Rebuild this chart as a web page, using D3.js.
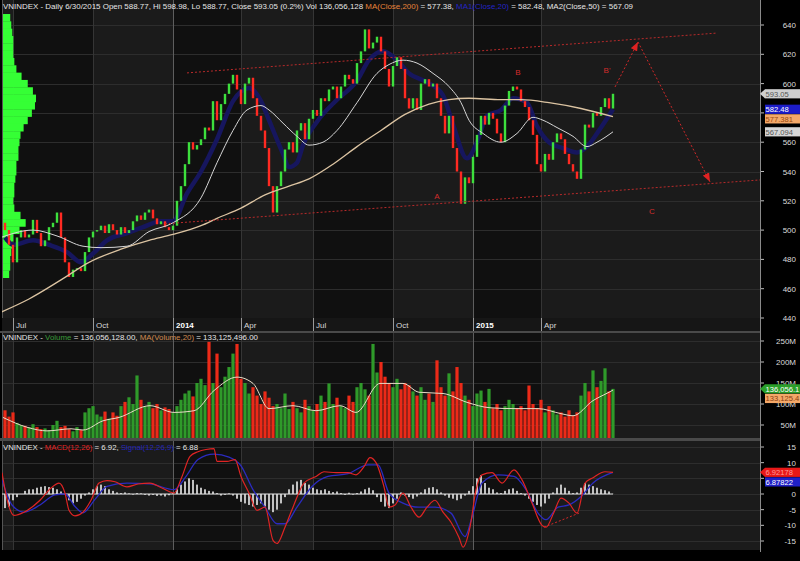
<!DOCTYPE html>
<html>
<head>
<meta charset="utf-8">
<script src="https://cdn.jsdelivr.net/npm/d3@7"></script>
<style>
body { margin: 0; background: #000; }
svg { display: block; font-family: "Liberation Sans", Arial, sans-serif; }
</style>
</head>
<body>
<svg id="chart" width="800" height="561"></svg>
<script>
// ---- data (one sample ~ every 3 trading days) ----
var closes = [500,490,478,495,500,495,497,507,498,489,
  493,502,505,512,495,478,468,473,474,472,
  485,495,499,500,503,498,504,500,497,502,
  498,500,506,510,507,512,514,508,504,506,
  502,500,503,520,530,545,560,555,558,562,
  570,568,588,575,586,593,600,606,596,586,
  600,604,590,578,568,556,530,512,530,540,
  555,560,553,568,573,562,576,582,578,590,
  588,596,598,590,598,606,603,600,614,622,
  637,624,628,632,622,610,598,612,618,610,
  590,583,590,582,600,603,598,600,590,578,
  566,578,556,540,518,536,532,550,565,578,
  572,580,576,566,560,585,595,598,596,588,
  584,575,565,545,540,552,548,560,566,562,
  552,545,540,535,555,572,570,580,578,584,
  590,583,593.05];
var firstOpen = 505;

// volume in millions
var volumes = [85,70,80,55,50,48,45,52,45,40,
  42,38,50,60,45,48,40,35,45,38,
  80,90,95,75,70,82,65,80,72,95,
  105,116,100,168,110,95,105,90,100,85,
  92,88,80,95,110,125,132,118,150,160,
  145,248,150,220,140,165,188,220,243,160,
  150,125,140,120,100,130,115,95,100,90,
  125,88,105,90,80,110,95,85,100,120,
  105,149,100,115,95,90,120,105,140,150,
  135,120,243,175,200,165,150,140,160,135,
  150,145,130,120,140,110,125,105,204,140,
  120,173,130,188,150,120,110,95,125,132,
  105,136,90,100,85,95,110,100,90,95,
  85,144,100,90,110,80,95,85,75,80,
  70,85,72,80,120,150,130,180,140,155,
  185,130,136.056];

var macdHist = [-4.5,-4,-2,-1,0,1,1.5,1.5,2,2.3,
  2.5,2.2,2,1.5,0.8,0,-2,-3,-2.5,-1.5,
  -0.5,0.5,1.5,2.5,3,2.5,1.5,1,0.5,0.3,
  0.5,0.2,-0.2,0.3,0.2,-0.3,-0.5,-0.3,-0.6,-0.5,
  -0.8,-0.4,0.3,1.5,3,4,5,4.5,3,2,
  1.5,1,0.8,0.3,-0.5,-0.3,0.2,-0.5,-1.5,-2.5,
  -3,-3.5,-4,-3.5,-3,-4,-5,-5.8,-5,-3,
  -1,1.5,3,4,4.5,3.5,3,2,1.5,1.2,
  1.5,1,0.6,0.8,0.3,-0.3,0.4,-0.2,0.3,0.8,
  1.5,2,1.2,-1,-2.5,-4,-4.5,-3,-1.5,0.5,
  -0.5,-1,-1.5,-0.8,0.5,1.5,2,2.2,1.5,0.5,
  -0.5,-1.2,-1.5,-2,-1.5,-0.5,1,2.5,5,6,
  3.5,2,1.5,0.5,0.3,1,1.5,1.8,1,0.3,
  -0.5,-1.5,-2.5,-3.5,-4,-3,-1.5,0.5,2,3,
  2,1,0.3,0.5,2,3.5,3,2.5,2,1.5,
  1.2,0.8,0.04];

// moving averages: [sample index, value]
var ma200 = [[-1,444],[6,453],[14,466],[21,478],[29,487],[36,493],[42,497],[49,503],[53,508],
  [59,515],[65,524],[71,530],[76,535],[82,545],[88,557],[94,568],[100,579],[106,586],
  [111,589],[116,590],[124,589],[129,589],[136,587],[144,583],[152,577.38]];
var ma50 = [[-1,495],[7,500],[13,496],[19.5,489],[24,488],[30.5,489],[36,499],[42,505],
  [49,522],[53,546],[57,568],[60.5,582],[64,585],[66,582],[69.5,573],[73,564],[76,558],
  [79.5,560],[83,568],[88,587],[93,607],[96,613],[99.5,616],[103,614],[107,607],[111,598],
  [114,587],[116,575],[119.5,566],[124,560],[128,566],[132,577],[134.5,575],[138,570],
  [142,564],[145.5,557],[148,560],[152,567.09]];
var ma20 = [[0,495],[2,490],[7,493],[11,490],[15.5,485],[19,478],[22,484],[25.5,493],
  [30.5,498],[34.5,502],[39,506],[42,506],[45.5,525],[49,540],[53,562],[57,588],[61,597],
  [64,588],[66,575],[69.5,552],[71,543],[73,546],[74.5,558],[78,574],[83,589],[88,602],
  [91,616],[94.5,622],[98,616],[101,607],[105.5,601],[109.5,592],[112,572],[115.5,549],
  [118,560],[120.5,578],[124,582],[127,590],[130.5,587],[133,571],[136,560],[139.5,556],
  [143,553],[145.5,557],[149,570],[152,582.48]];
var volMa = [[-0.5,68],[5.75,44],[10.5,36],[16.5,41],[19.5,38],[24.5,60],[28.5,68],[36.25,96],
  [42.25,80],[47.25,84],[52.25,132],[58,164],[62,149],[66,89],[72,96],[77.75,84],[83.75,96],
  [87.75,80],[93.75,149],[99.5,149],[103.5,128],[109.5,125],[115.5,104],[121.25,91],
  [127.25,89],[133.25,89],[139,77],[142,72],[147,108],[151,128],[152,133.125]];
var macdLine = [[-0.75,6.8],[0.75,-3],[2.25,-6.8],[4.75,-5.8],[8.75,-2],[11.5,1.9],[13.5,3.5],
  [15,0.3],[16,-5.2],[17.5,-7],[19.5,-5.8],[21.5,-2],[23.5,3.5],[25.5,4.3],[27.5,3.9],
  [30.5,2.3],[33.25,3.2],[36.25,3.5],[39.25,1.9],[42.25,0.3],[44.25,5.6],[46.25,12],
  [48.25,13.5],[50.25,14.2],[52.25,14.5],[53,10.4],[55.5,10.4],[57.5,11],[59,5.6],[61,0.3],
  [63,-5.2],[65,-4.2],[67,-14.8],[68,-15.8],[70,-10.6],[72,-4.2],[74.75,3.5],[77.75,5.6],
  [79.75,7.1],[82.75,6.8],[85.75,6.8],[87.75,6.1],[89.75,8.7],[91.25,11.6],[92.75,10],
  [94.75,2.3],[96,-4.2],[97.5,-3.5],[99.5,0.3],[101.5,-4.2],[103.5,-7.4],[105.5,-4.2],
  [107.5,-2],[109.5,-5.8],[111.5,-9],[113.5,-13.9],[114.5,-17],[116.25,-10.6],[117.75,1.3],
  [119.25,6.1],[121.75,6.8],[124.25,3.5],[127.25,7.7],[129.25,4.5],[131.75,-2.9],
  [134.25,-10],[135.25,-10.6],[137.25,-5.8],[139,-1.3],[141,-2.9],[143,-6.1],[145,3.5],
  [147,5.2],[150,7.1],[152,6.92]];
var signalLine = [[-0.75,4.5],[1.75,-3.5],[4.75,-5.8],[8.75,-3.5],[12.5,-0.3],[15,0],
  [17.5,-4],[19.5,-6],[22.5,-1.7],[25.5,2.4],[30.5,3.5],[36.25,3.2],[42.25,1.4],[45.25,5.6],
  [48.25,11],[52.25,12.7],[56,11.8],[59,9],[62,1.4],[65,-4.2],[68,-9.5],[70,-9.5],[73,-4.2],
  [76.75,2.4],[80.75,5.6],[85.75,6.5],[90.75,9.3],[93.25,9.3],[96,0.3],[99.5,-2.9],
  [103.5,-4.2],[107.5,-4.2],[111.5,-6.1],[115,-13.6],[116.75,-7.4],[119.25,3.5],[123.25,6.1],
  [127.25,5.6],[130.25,1.4],[133.25,-6.1],[135.25,-8.2],[138.25,-4.2],[141,-3.5],[144,-0.8],
  [147,3.5],[152,6.88]];

// volume-at-price profile on the left
var profileLevels = [645,640,635,630,625,620,615,610,605,600,595,590,585,580,575,570,565,560,
  555,550,545,540,535,530,525,520,515,510,505,500,495,490,485,480,475,470];
var profileVol = [7,8,9,10,10,10,11,13,18,24,29,32,31,28,24,20,17,16,
  15,15,13,13,12,11,11,10,11,17,22,16,10,9,8,7,7,6];

// axis ticks
var quarterIdx = [2,22,42,59,77,97,117,134];
var quarterLabels = ["Jul","Oct","2014","Apr","Jul","Oct","2015","Apr"];
var darkBands = [[2,22],[42,59],[77,97],[117,134]];
var priceTicks = [440,460,480,500,520,540,560,580,600,620,640];
var volTicks = [50,100,150,200,250];
var macdTicks = [-15,-10,-5,0,5,10,15];
// tick labels hidden behind the value tags
var hiddenLabels = { main: [580], vol: [], macd: [5] };

// ---- drawing ----
var svg = d3.select("#chart");
var L = 2, R = 760;
var main = { top: 0, bottom: 318 };
var vol = { top: 333, bottom: 438 };
var mac = { top: 441, bottom: 550 };

var x = d3.scaleLinear().domain([0, closes.length - 1]).range([5, 613]);
var yP = d3.scaleLinear().domain([440, 640]).range([318, 25]);
var yV = d3.scaleLinear().domain([0, 250]).range([446, 341]);
var yM = d3.scaleLinear().domain([-15, 15]).range([541, 447]);

var GREEN = "#3ddf3d", RED = "#ff2a22";

var defs = svg.append("defs");
[["clipMain", main], ["clipVol", vol], ["clipMacd", mac]].forEach(function (c) {
    defs.append("clipPath").attr("id", c[0]).append("rect")
        .attr("x", L).attr("y", c[1].top).attr("width", R - L).attr("height", c[1].bottom - c[1].top);
});
defs.append("marker").attr("id", "arrow").attr("viewBox", "0 0 10 8")
    .attr("refX", 10).attr("refY", 4).attr("markerWidth", 9).attr("markerHeight", 7)
    .attr("markerUnits", "userSpaceOnUse").attr("orient", "auto")
    .append("path").attr("d", "M0,0L10,4L0,8Z").attr("fill", "#e02222");

function panelBg(p, ticks, yScale) {
    var g = svg.append("g");
    g.append("rect").attr("x", L).attr("y", p.top).attr("width", R - L).attr("height", p.bottom - p.top)
        .attr("fill", "#1b1b1b");
    g.selectAll(".band").data(darkBands).enter().append("rect")
        .attr("x", function (d) { return x(d[0]); })
        .attr("y", p.top)
        .attr("width", function (d) { return x(d[1]) - x(d[0]); })
        .attr("height", p.bottom - p.top)
        .attr("fill", "#101010");
    g.selectAll(".hg").data(ticks).enter().append("line")
        .attr("x1", L).attr("x2", R)
        .attr("y1", function (d) { return Math.round(yScale(d)) + 0.5; })
        .attr("y2", function (d) { return Math.round(yScale(d)) + 0.5; })
        .attr("stroke", "#2d2d2d");
    g.selectAll(".vg").data(quarterIdx).enter().append("line")
        .attr("x1", function (d) { return Math.round(x(d)) + 0.5; })
        .attr("x2", function (d) { return Math.round(x(d)) + 0.5; })
        .attr("y1", p.top).attr("y2", p.bottom)
        .attr("stroke", function (d, i) { return (i == 2 || i == 6) ? "#5e5e5e" : "#353535"; });
    g.append("line").attr("x1", L + 0.5).attr("x2", L + 0.5).attr("y1", p.top).attr("y2", p.bottom)
        .attr("stroke", "#555");
    return g;
}

function rightAxis(p, ticks, yScale, fmt, hidden) {
    var g = svg.append("g");
    g.selectAll("line").data(ticks).enter().append("line")
        .attr("x1", R).attr("x2", R + 4)
        .attr("y1", function (d) { return yScale(d); }).attr("y2", function (d) { return yScale(d); })
        .attr("stroke", "#bbb");
    g.selectAll("text").data(ticks.filter(function (d) { return hidden.indexOf(d) < 0; }))
        .enter().append("text")
        .attr("x", 796).attr("y", function (d) { return yScale(d) + 3; })
        .attr("text-anchor", "end").attr("font-size", 8).attr("fill", "#dcdcdc")
        .text(fmt);
}

function header(y, parts, len) {
    var t = svg.append("text").attr("x", 3).attr("y", y).attr("font-size", 8)
        .attr("textLength", len).attr("lengthAdjust", "spacingAndGlyphs");
    parts.forEach(function (p) { t.append("tspan").attr("fill", p[1]).text(p[0]); });
}

function tags(list) {
    // list: [value y, text, bg, fg, arrow]; push down to avoid overlap
    list.sort(function (a, b) { return a[0] - b[0]; });
    var last = -1e9;
    list.forEach(function (t) {
        var yc = Math.max(t[0], last + 9.6);
        last = yc;
        if (t[4]) {
            svg.append("path").attr("d", "M" + (R) + "," + yc + "L" + (R + 5) + "," + (yc - 4.6) + "L" + (R + 5) + "," + (yc + 4.6) + "Z")
                .attr("fill", t[2]);
        }
        svg.append("rect").attr("x", R + 5).attr("y", yc - 4.6).attr("width", 40).attr("height", 9.2).attr("fill", t[2]);
        svg.append("text").attr("x", R + 5.5).attr("y", yc + 3).attr("font-size", 7.6).attr("fill", t[3]).text(t[1]);
    });
}

// ---- main price panel ----
panelBg(main, priceTicks, yP);
var gm = svg.append("g").attr("clip-path", "url(#clipMain)");

var profW = d3.scaleLinear().domain([0, d3.max(profileVol)]).range([0, 33]);
gm.selectAll(".prof").data(profileLevels).enter().append("rect")
    .attr("x", L + 1)
    .attr("y", function (d) { return yP(d + 2.5); })
    .attr("width", function (d, i) { return profW(profileVol[i]); })
    .attr("height", function (d) { return yP(d - 2.5) - yP(d + 2.5) + 0.3; })
    .attr("fill", "#35ff35");

var candles = closes.map(function (c, i) {
    return { i: i, o: i == 0 ? firstOpen : closes[i - 1], c: c };
});

var line = d3.line().x(function (d) { return x(d[0]); }).curve(d3.curveMonotoneX);
gm.append("path").datum(ma20).attr("d", line.y(function (d) { return yP(d[1]); }))
    .attr("fill", "none").attr("stroke", "#16165e").attr("stroke-width", 4.5);

gm.selectAll(".cd").data(candles).enter().append("rect")
    .attr("x", function (d) { return x(d.i) - 1.2; })
    .attr("width", 2.4)
    .attr("y", function (d) { return yP(Math.max(d.o, d.c)); })
    .attr("height", function (d) { return Math.max(1, Math.abs(yP(d.o) - yP(d.c))); })
    .attr("fill", function (d) { return d.c >= d.o ? GREEN : RED; });

gm.append("path").datum(ma200).attr("d", line.y(function (d) { return yP(d[1]); }))
    .attr("fill", "none").attr("stroke", "#dcc4a2").attr("stroke-width", 1.3);
gm.append("path").datum(ma50).attr("d", line.y(function (d) { return yP(d[1]); }))
    .attr("fill", "none").attr("stroke", "#d6d6d6").attr("stroke-width", 1);

// channel and wave annotations
var annLines = [
    [[45.5, 607.3], [178, 634.5]],
    [[40, 504.3], [189, 534.3]]
];
annLines.forEach(function (a) {
    gm.append("line").attr("x1", x(a[0][0])).attr("y1", yP(a[0][1]))
        .attr("x2", x(a[1][0])).attr("y2", yP(a[1][1]))
        .attr("stroke", "#b82a2a").attr("stroke-dasharray", "2,2");
});
var arrows = [
    [[152.5, 597.7], [158.25, 628.4]],
    [[158.25, 628.4], [176.25, 533]]
];
arrows.forEach(function (a) {
    gm.append("line").attr("x1", x(a[0][0])).attr("y1", yP(a[0][1]))
        .attr("x2", x(a[1][0])).attr("y2", yP(a[1][1]))
        .attr("stroke", "#d02828").attr("stroke-dasharray", "2,2").attr("marker-end", "url(#arrow)");
});
var waveLabels = [["A", 108, 521], ["B", 128.25, 606], ["B'", 150.5, 607], ["C", 161.75, 511]];
gm.selectAll(".wl").data(waveLabels).enter().append("text")
    .attr("x", function (d) { return x(d[1]); }).attr("y", function (d) { return yP(d[2]); })
    .attr("text-anchor", "middle").attr("font-size", 8).attr("fill", "#d22c2c")
    .text(function (d) { return d[0]; });

header(9, [
    ["VNINDEX - Daily 6/30/2015 Open 588.77, Hi 598.98, Lo 588.77, Close 593.05 (0.2%) Vol 136,056,128 ", "#e6e6e6"],
    ["MA(Close,200)", "#e8843a"],
    [" = 577.38, ", "#e6e6e6"],
    ["MA1(Close,20)", "#2424c4"],
    [" = 582.48, MA2(Close,50) = 567.09", "#e6e6e6"]
], 630);

rightAxis(main, priceTicks, yP, function (d) { return d; }, hiddenLabels.main);

// x-axis strip
svg.append("rect").attr("x", L).attr("y", 318).attr("width", R - L).attr("height", 13).attr("fill", "#161616");
svg.selectAll(".xt").data(quarterIdx).enter().append("line")
    .attr("x1", function (d) { return Math.round(x(d)) + 0.5; })
    .attr("x2", function (d) { return Math.round(x(d)) + 0.5; })
    .attr("y1", 318).attr("y2", 331).attr("stroke", "#9a9a9a");
svg.selectAll(".xl").data(quarterIdx).enter().append("text")
    .attr("x", function (d) { return x(d) + 3; }).attr("y", 328)
    .attr("font-size", 8)
    .attr("font-weight", function (d, i) { return (i == 2 || i == 6) ? "bold" : "normal"; })
    .attr("fill", function (d, i) { return (i == 2 || i == 6) ? "#ffffff" : "#d6d6d6"; })
    .text(function (d, i) { return quarterLabels[i]; });
svg.append("rect").attr("x", 0).attr("y", 331).attr("width", R).attr("height", 2).attr("fill", "#4a4a4a");

// ---- volume panel ----
panelBg(vol, volTicks, yV);
var gv = svg.append("g").attr("clip-path", "url(#clipVol)");
gv.selectAll(".vb").data(candles).enter().append("rect")
    .attr("x", function (d) { return x(d.i) - 1.6; })
    .attr("width", 3.2)
    .attr("y", function (d) { return yV(volumes[d.i]); })
    .attr("height", function (d) { return yV(0) - yV(volumes[d.i]); })
    .attr("fill", function (d) { return d.c >= d.o ? "#2f9a2a" : "#ec2a18"; });
gv.append("path").datum(volMa).attr("d", line.y(function (d) { return yV(d[1]); }))
    .attr("fill", "none").attr("stroke", "#e8dcc6").attr("stroke-width", 1);
header(340, [
    ["VNINDEX - ", "#e6e6e6"],
    ["Volume", "#3a9a3a"],
    [" = 136,056,128.00, ", "#e6e6e6"],
    ["MA(Volume,20)", "#d08a50"],
    [" = 133,125,496.00", "#e6e6e6"]
], 255);
rightAxis(vol, volTicks, yV, function (d) { return d + "M"; }, hiddenLabels.vol);
svg.append("rect").attr("x", 0).attr("y", 438).attr("width", R).attr("height", 3).attr("fill", "#4a4a4a");

// ---- MACD panel ----
panelBg(mac, macdTicks, yM);
var gc = svg.append("g").attr("clip-path", "url(#clipMacd)");
gc.selectAll(".hb").data(macdHist).enter().append("rect")
    .attr("x", function (d, i) { return x(i) - 0.9; })
    .attr("width", 1.8)
    .attr("y", function (d) { return Math.min(yM(0), yM(d)); })
    .attr("height", function (d) { return Math.abs(yM(d) - yM(0)); })
    .attr("fill", "#d4d4d4");
gc.append("line").attr("x1", L).attr("x2", x(closes.length - 1))
    .attr("y1", yM(0)).attr("y2", yM(0)).attr("stroke", "#e0e0e0");
gc.append("path").datum(signalLine).attr("d", line.y(function (d) { return yM(d[1]); }))
    .attr("fill", "none").attr("stroke", "#2b2bc0").attr("stroke-width", 1.3);
gc.append("path").datum(macdLine).attr("d", line.y(function (d) { return yM(d[1]); }))
    .attr("fill", "none").attr("stroke", "#e02424").attr("stroke-width", 1.2);
gc.append("line").attr("x1", x(134.75)).attr("y1", yM(-10.6)).attr("x2", x(143.5)).attr("y2", yM(-6.1))
    .attr("stroke", "#d02828").attr("stroke-dasharray", "2,2");
header(450, [
    ["VNINDEX - ", "#e6e6e6"],
    ["MACD(12,26)", "#e02424"],
    [" = 6.92, ", "#e6e6e6"],
    ["Signal(12,26,9)", "#2424b8"],
    [" = 6.88", "#e6e6e6"]
], 195);
rightAxis(mac, macdTicks, yM, function (d) { return d; }, hiddenLabels.macd);

// right axis line
svg.append("line").attr("x1", R + 0.5).attr("x2", R + 0.5).attr("y1", 0).attr("y2", 552).attr("stroke", "#8a8a8a");

// value tags
tags([
    [yP(593.05), "593.05", "#cfcfcf", "#555", true],
    [yP(582.48), "582.48", "#1c1cc8", "#ffffff", false],
    [yP(577.381), "577.381", "#f4a868", "#9a4a10", false],
    [yP(567.094), "567.094", "#d6d6d6", "#555", false]
]);
tags([
    [yV(136.056), "136,056.1", "#2aa02a", "#ffffff", true],
    [yV(133.125), "133,125.4", "#f4a868", "#8a4010", false]
]);
tags([
    [yM(6.92178), "6.92178", "#e81818", "#ff9a9a", true],
    [yM(6.87822), "6.87822", "#2020c8", "#ffffff", false]
]);
</script>
</body>
</html>
